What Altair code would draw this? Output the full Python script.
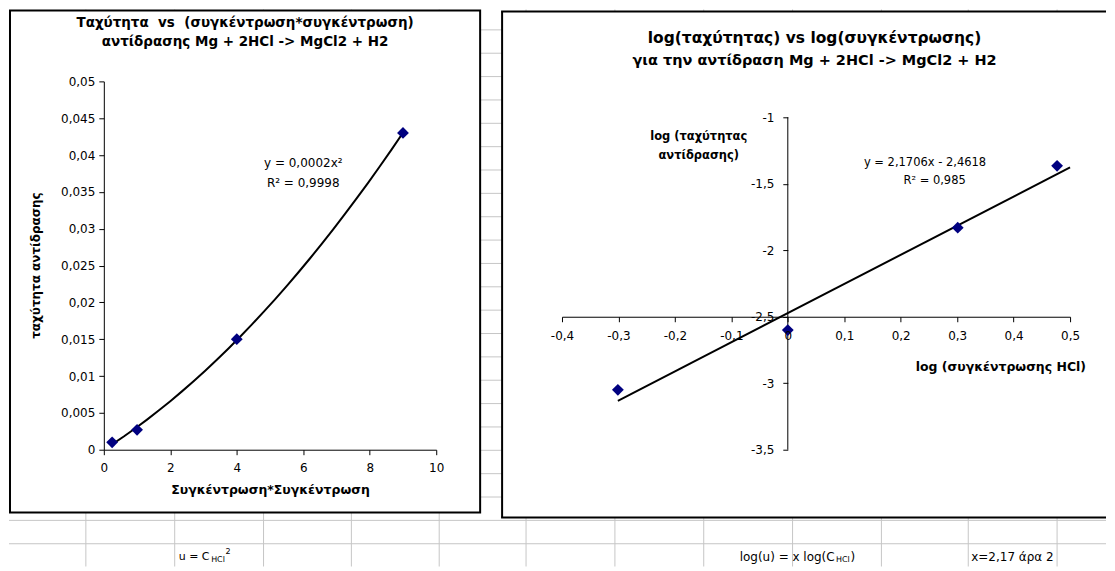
import altair as alt
import pandas as pd

FONT = "DejaVu Sans"
NAVY = "#000080"
GRID = "#c6c6c6"

# ---------------- data ----------------
c_squared = [0.25, 1, 4, 9]                      # συγκέντρωση * συγκέντρωση
rate = [0.0010, 0.0027, 0.0150, 0.0430]          # ταχύτητα αντίδρασης
log_conc = [-0.301, 0.0, 0.301, 0.477]           # log(συγκέντρωσης HCl)
log_rate = [-3.05, -2.60, -1.83, -1.365]         # log(ταχύτητας)

left_x_ticks = [0, 2, 4, 6, 8, 10]
left_y_ticks = [0, 0.005, 0.01, 0.015, 0.02, 0.025, 0.03, 0.035, 0.04, 0.045, 0.05]
right_x_ticks = [-0.4, -0.3, -0.2, -0.1, 0, 0.1, 0.2, 0.3, 0.4, 0.5]
right_y_ticks = [-3.5, -3, -2.5, -2, -1.5, -1]

left_title = ["Ταχύτητα\u00a0 vs\u00a0 (συγκέντρωση*συγκέντρωση)",
              "αντίδρασης Mg + 2HCl -> MgCl2 + H2"]
left_x_title = "Συγκέντρωση*Συγκέντρωση"
left_y_title = "ταχύτητα αντίδρασης"
left_eq = ["y = 0,0002x²", "R² = 0,9998"]
right_title = ["log(ταχύτητας) vs log(συγκέντρωσης)",
               "για την αντίδραση Mg + 2HCl -> MgCl2 + H2"]
right_x_title = "log (συγκέντρωσης HCl)"
right_y_title = ["log (ταχύτητας", "αντίδρασης)"]
right_eq = ["y = 2,1706x - 2,4618", "R² = 0,985"]
cell_texts = ["u = C", "HCl", "2", "log(u) = x log(C", "HCl", ")", "x=2,17 άρα 2"]

# ---------------- layout (page pixels) ----------------
L_X, L_Y, L_W, L_H = 103, 80, 333, 369
R_X, R_Y, R_W, R_H = 562, 80, 509, 369
SPACING = R_X - (L_X + L_W)
R_PX_PER_UNIT_Y = 133.2
R_Y_TOP = -1 + (116 - R_Y) / R_PX_PER_UNIT_Y
X_AXIS_OFF = R_PX_PER_UNIT_Y * 1.0          # x axis crosses at y = -2.5
Y_AXIS_OFF = R_W * 0.4 / 0.9                # y axis crosses at x = 0
PAGE_RIGHT = 1107

def lx(p): return p - L_X
def ly(p): return p - L_Y
def rx(p): return p - R_X
def ry(p): return p - R_Y

one = pd.DataFrame({"k": [0]})
LABEL_EXPR = "replace(toString(datum.value), '.', ',')"
axis_common = dict(title=None, grid=False, domainColor="black", tickColor="black",
                   labelColor="black", labelFont=FONT, labelFontSize=12, tickSize=5,
                   labelFlush=False, labelOverlap=False, zindex=1, labelExpr=LABEL_EXPR)


def vtext(text, x, y, size=11, bold=False, align="center", angle=0):
    return alt.Chart(one).mark_text(
        text=text, font=FONT, fontSize=size, fontWeight="bold" if bold else "normal",
        align=align, baseline="middle", angle=angle, color="black"
    ).encode(x=alt.value(x), y=alt.value(y))


def hrule(y, x1, x2, color=GRID, w=1):
    return alt.Chart(one).mark_rule(color=color, strokeWidth=w).encode(
        x=alt.value(x1), x2=alt.value(x2), y=alt.value(y))


def vrule(x, y1, y2, color=GRID, w=1):
    return alt.Chart(one).mark_rule(color=color, strokeWidth=w).encode(
        x=alt.value(x), y=alt.value(y1), y2=alt.value(y2))


# ---------------- spreadsheet grid (background) ----------------
grid_rows = [5 + 23.4 * k for k in range(1, 24)]
grid_cols = [85, 174, 263, 351, 439, 526, 615, 704, 793, 882, 969, 1058]
grid_layers = [hrule(ly(y), lx(8), lx(PAGE_RIGHT)) for y in grid_rows]
grid_layers += [vrule(lx(x), ly(8), ly(566)) for x in grid_cols]

# ---------------- left chart ----------------
ldf = pd.DataFrame({"c2": c_squared, "rate": rate})
LXE = alt.X("c2:Q", scale=alt.Scale(domain=[0, 10], nice=False, zero=False),
            axis=alt.Axis(values=left_x_ticks, labelPadding=8, **axis_common))
LYE = alt.Y("rate:Q", scale=alt.Scale(domain=[0, 0.05], nice=False, zero=False),
            axis=alt.Axis(values=left_y_ticks, labelPadding=4, **axis_common))

left_frame = alt.Chart(one).mark_rect(fill="white", stroke="black", strokeWidth=2).encode(
    x=alt.value(lx(9)), x2=alt.value(lx(480)), y=alt.value(ly(9)), y2=alt.value(ly(512)))

l_line = alt.Chart(ldf).transform_regression(
    "c2", "rate", method="poly", order=2, extent=[c_squared[0], c_squared[-1]]
).mark_line(color="black", strokeWidth=2).encode(x=LXE, y=LYE)
l_pts = alt.Chart(ldf).mark_point(shape="diamond", filled=True, size=140, color=NAVY,
                                  opacity=1).encode(x=LXE, y=LYE)

# trendline labels, anchored in data units like Excel's label box
l_eq_df = pd.DataFrame({"c2": [6, 6], "rate": [0.0389, 0.0362], "t": left_eq})
l_eq = alt.Chart(l_eq_df).mark_text(font=FONT, fontSize=12, color="black",
                                    align="center", baseline="middle").encode(
    x=LXE, y=LYE, text="t:N")

left_layers = grid_layers + [
    left_frame,
    vtext(cell_texts[0], lx(178), ly(556), size=11, align="left"),
    vtext(cell_texts[1], lx(210.5), ly(559), size=8, align="left"),
    vtext(cell_texts[2], lx(225), ly(551), size=8, align="left"),
    l_line, l_pts, l_eq,
    vtext(left_title[0], lx(244.5), ly(22), size=13.5, bold=True),
    vtext(left_title[1], lx(244.5), ly(41), size=13.5, bold=True),
    vtext(left_y_title, lx(35), ly(264.5), size=12, bold=True, angle=270),
    vtext(left_x_title, lx(270), ly(489), size=12.5, bold=True),
]
left = alt.layer(*left_layers).properties(width=L_W, height=L_H)

# ---------------- right chart ----------------
rdf = pd.DataFrame({"x": log_conc, "y": log_rate})
RXE = alt.X("x:Q", scale=alt.Scale(domain=[right_x_ticks[0], right_x_ticks[-1]], nice=False, zero=False),
            axis=alt.Axis(values=right_x_ticks, offset=-X_AXIS_OFF, labelPadding=9, **axis_common))
RYE = alt.Y("y:Q", scale=alt.Scale(domain=[right_y_ticks[0], R_Y_TOP], nice=False, zero=False),
            axis=alt.Axis(values=right_y_ticks, offset=-Y_AXIS_OFF, domain=False, labelPadding=9,
                          **axis_common))

right_frame = alt.Chart(one).mark_rect(fill="white").encode(
    x=alt.value(rx(502)), x2=alt.value(rx(PAGE_RIGHT)), y=alt.value(ry(10)), y2=alt.value(ry(517)))
frame_edges = [
    hrule(ry(10), rx(501), rx(PAGE_RIGHT), color="black", w=2),
    hrule(ry(517), rx(501), rx(PAGE_RIGHT), color="black", w=2),
    vrule(rx(502), ry(10), ry(517), color="black", w=2),
]

yaxis_df = pd.DataFrame({"x": [0, 0], "y": [right_y_ticks[0], right_y_ticks[-1]]})
r_yaxis = alt.Chart(yaxis_df).mark_line(color="black", strokeWidth=1).encode(x=RXE, y=RYE)
r_line = alt.Chart(rdf).transform_regression(
    "x", "y", method="linear", extent=[log_conc[0], right_x_ticks[-1]]
).mark_line(color="black", strokeWidth=2).encode(x=RXE, y=RYE)
r_pts = alt.Chart(rdf).mark_point(shape="diamond", filled=True, size=140, color=NAVY,
                                  opacity=1).encode(x=RXE, y=RYE)
r_eq_df = pd.DataFrame({"x": [0.243, 0.26], "y": [-1.343, -1.48], "t": right_eq})
r_eq = alt.Chart(r_eq_df).mark_text(font=FONT, fontSize=11.5, color="black",
                                    align="center", baseline="middle").encode(
    x=RXE, y=RYE, text="t:N")

right_layers = [right_frame] + frame_edges + [
    r_yaxis, r_line, r_pts, r_eq,
    vtext(right_title[0], rx(815), ry(37), size=15.5, bold=True),
    vtext(right_title[1], rx(815), ry(60), size=14.5, bold=True),
    vtext(right_y_title[0], rx(699), ry(136), size=11.5, bold=True),
    vtext(right_y_title[1], rx(699), ry(155), size=11.5, bold=True),
    vtext(right_x_title, rx(1087), ry(366), size=12.5, bold=True, align="right"),
    vtext(cell_texts[3], rx(740), ry(556), size=12, align="left"),
    vtext(cell_texts[4], rx(836.5), ry(559), size=8, align="left"),
    vtext(cell_texts[5], rx(851), ry(556), size=12, align="left"),
    vtext(cell_texts[6], rx(972), ry(556), size=12, align="left"),
]
right = alt.layer(*right_layers).properties(width=R_W, height=R_H)

chart = alt.hconcat(left, right, spacing=SPACING, bounds="flush").properties(
    padding=0, background="white"
).configure_view(stroke=None)

chart.save("out.html", embed_options={"renderer": "svg", "actions": False})
